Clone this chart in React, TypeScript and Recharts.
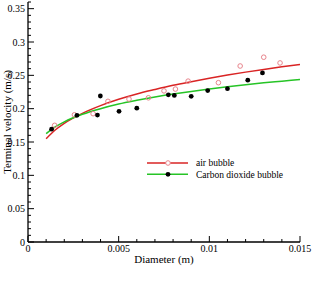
import { ComposedChart, Line, Scatter, XAxis, YAxis, Legend, Label } from "recharts";

// measured points (diameter in m, terminal velocity in m/s)
const airD = [0.00147, 0.00256, 0.00359, 0.00441, 0.00557, 0.00664, 0.0075, 0.00813, 0.00883, 0.0105, 0.0117, 0.013, 0.0139];
const airV = [0.175, 0.1908, 0.1925, 0.211, 0.2144, 0.2163, 0.2267, 0.2294, 0.2413, 0.239, 0.264, 0.2772, 0.2686];

const co2D = [0.0013, 0.0027, 0.00383, 0.00399, 0.00502, 0.006, 0.00774, 0.00807, 0.009, 0.00991, 0.0110, 0.01212, 0.01293];
const co2V = [0.1693, 0.190, 0.1904, 0.219, 0.196, 0.2007, 0.2208, 0.2199, 0.2185, 0.2272, 0.230, 0.2427, 0.2536];

// fitted curves
const fitD = [0.001, 0.0015, 0.002, 0.003, 0.004, 0.005, 0.006, 0.007, 0.008, 0.009, 0.01, 0.011, 0.012, 0.013, 0.014, 0.015];
const airFit = [0.155, 0.168, 0.178, 0.193, 0.2045, 0.214, 0.222, 0.2287, 0.235, 0.2405, 0.2457, 0.2504, 0.2548, 0.2589, 0.2628, 0.2664];
const co2Fit = [0.1625, 0.1727, 0.1803, 0.1916, 0.2, 0.2069, 0.2125, 0.2176, 0.222, 0.2259, 0.2295, 0.2328, 0.2359, 0.2387, 0.2413, 0.2439];

const xMajor = [0, 0.005, 0.01, 0.015];
const xLabels = ["0", "0.005", "0.01", "0.015"];
const yMajor = [0, 0.05, 0.1, 0.15, 0.2, 0.25, 0.3, 0.35];
const yLabels = ["0", "0.05", "0.1", "0.15", "0.2", "0.25", "0.3", "0.35"];

const legendNames = ["air bubble", "Carbon dioxide bubble"];

const RED = "#d92424";
const GREEN = "#26c426";
const PINK = "#e8848c";
const FONT = "Liberation Serif, Times New Roman, serif";
const txt = { fontFamily: FONT };

// minor ticks every 0.001 / 0.01
const xTicks: number[] = [];
for (let i = 0; i <= 15; i++) xTicks.push(i / 1000);
const yTicks: number[] = [];
for (let i = 0; i <= 36; i++) yTicks.push(i / 100);

const toPts = (xs: number[], ys: number[]) => xs.map((x, i) => ({ x, y: ys[i] }));
const airPts = toPts(airD, airV);
const co2Pts = toPts(co2D, co2V);
const airLine = toPts(fitD, airFit);
const co2Line = toPts(fitD, co2Fit);

const majorIndex = (list: number[], v: number) => list.findIndex((m) => Math.abs(m - v) < 1e-9);

const XTick = (props: any) => {
  const { x, y, payload } = props;
  const idx = majorIndex(xMajor, payload.value);
  const major = idx >= 0;
  return (
    <g>
      <line x1={x} y1={y} x2={x} y2={y - (major ? 6 : 3)} stroke="#000" strokeWidth={1} />
      {major && (
        <text x={x} y={y + 9.5} textAnchor="middle" fontSize={10} style={txt} fill="#000">
          {xLabels[idx]}
        </text>
      )}
    </g>
  );
};

const YTick = (props: any) => {
  const { x, y, payload } = props;
  const idx = majorIndex(yMajor, payload.value);
  const major = idx >= 0;
  return (
    <g>
      <line x1={x} y1={y} x2={x + (major ? 6 : 3)} y2={y} stroke="#000" strokeWidth={1} />
      {major && (
        <text x={x - 3} y={y} dy="0.35em" textAnchor="end" fontSize={10} style={txt} fill="#000">
          {yLabels[idx]}
        </text>
      )}
    </g>
  );
};

const HollowDot = (props: any) => (
  <circle cx={props.cx} cy={props.cy} r={2.3} fill="none" stroke={PINK} strokeWidth={1} />
);
const BlackDot = (props: any) => <circle cx={props.cx} cy={props.cy} r={2.4} fill="#000" />;

const LegendBox = () => (
  <svg width={160} height={24} style={{ overflow: "visible" }}>
    <line x1={0} y1={6} x2={41} y2={6} stroke={RED} strokeWidth={1.5} />
    <circle cx={21} cy={6} r={2.3} fill="#fff" stroke={PINK} strokeWidth={1} />
    <text x={49} y={6} dy="0.35em" fontSize={9.5} style={txt} fill="#000">
      {legendNames[0]}
    </text>
    <line x1={0} y1={17.3} x2={41} y2={17.3} stroke={GREEN} strokeWidth={1.5} />
    <circle cx={21} cy={17.3} r={2.4} fill="#000" />
    <text x={49} y={17.3} dy="0.35em" fontSize={9.5} style={txt} fill="#000">
      {legendNames[1]}
    </text>
  </svg>
);

export default function App() {
  return (
    <div style={{ position: "absolute", left: 0, top: 0, background: "#fff" }}>
      <ComposedChart width={313} height={290} margin={{ top: 2, right: 13, left: 0, bottom: 0 }}>
        <XAxis
          type="number"
          dataKey="x"
          domain={[0, 0.015]}
          ticks={xTicks}
          interval={0}
          tickSize={0}
          tickMargin={0}
          tickLine={false}
          tick={<XTick />}
          height={24}
          allowDataOverflow
          axisLine={{ stroke: "#000", strokeWidth: 1.3 }}
        >
          <Label
            value="Diameter (m)"
            position="insideBottom"
            offset={3}
            fontSize={11}
            style={{ fontFamily: FONT, fontWeight: "normal" }}
            fill="#000"
          />
        </XAxis>
        <YAxis
          type="number"
          dataKey="y"
          domain={[0, 0.36]}
          ticks={yTicks}
          interval={0}
          tickSize={0}
          tickMargin={0}
          tickLine={false}
          tick={<YTick />}
          width={28}
          allowDataOverflow
          axisLine={{ stroke: "#000", strokeWidth: 1.3 }}
        >
          <Label
            value="Terminal velocity (m/s)"
            angle={-90}
            position="insideLeft"
            offset={7}
            style={{ textAnchor: "middle", fontFamily: FONT }}
            fontSize={11}
            fill="#000"
          />
        </YAxis>
        <Legend
          content={<LegendBox />}
          wrapperStyle={{ position: "absolute", left: 147, top: 157, width: 160, height: 24 }}
        />
        <Line
          data={airLine}
          dataKey="y"
          type="monotone"
          stroke={RED}
          strokeWidth={1.5}
          dot={false}
          activeDot={false}
          isAnimationActive={false}
        />
        <Line
          data={co2Line}
          dataKey="y"
          type="monotone"
          stroke={GREEN}
          strokeWidth={1.5}
          dot={false}
          activeDot={false}
          isAnimationActive={false}
        />
        <Scatter data={airPts} dataKey="y" shape={<HollowDot />} isAnimationActive={false} />
        <Scatter data={co2Pts} dataKey="y" shape={<BlackDot />} isAnimationActive={false} />
      </ComposedChart>
    </div>
  );
}
